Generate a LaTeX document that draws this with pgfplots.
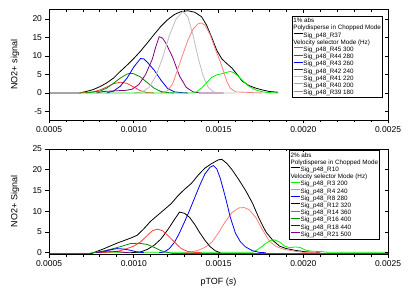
\documentclass[border=0pt]{standalone}
\usepackage{fontspec}
\setmainfont{Liberation Sans}
\usepackage{pgfplots}
\pgfplotsset{compat=1.18}

\definecolor{cred}{RGB}{255,60,60}
\definecolor{cdgreen}{RGB}{0,140,0}
\definecolor{cblue}{RGB}{0,0,255}
\definecolor{cpurple}{RGB}{128,0,128}
\definecolor{cgray}{RGB}{190,190,190}
\definecolor{cpink}{RGB}{255,128,128}
\definecolor{clgreen}{RGB}{0,240,0}

\pgfplotsset{
  tof/.style={
    scale only axis, width=339pt,
    xmin=0.0005, xmax=0.0025,
    xtick={0.0005,0.001,0.0015,0.002,0.0025},
    minor x tick num=4,
    scaled x ticks=false,
    /pgf/number format/assume math mode=true,
    x tick label style={/pgf/number format/.cd, fixed, fixed zerofill, precision=4},
    tick label style={font=\fontsize{8.5}{9}\selectfont},
    label style={font=\fontsize{9}{10}\selectfont},
    axis line style={line width=0.9pt},
    every tick/.style={black, line width=0.8pt},
    major tick length=3.5pt, minor tick length=2.5pt,
    tick align=outside,
    xtick pos=bottom, ytick pos=left,
    every axis plot/.append style={line width=0.8pt},
    legend cell align=left,
    legend image code/.code={\draw[##1] (0pt,2pt) -- (9pt,2pt);},
  },
  mirror/.style={
    tof, xtick pos=top, ytick pos=right, tick align=inside,
    xticklabels={}, yticklabels={},
  },
  leg/.style={
    draw=black, line width=0.8pt, inner sep=1pt,
    font=\fontsize{6.3}{6.3}\selectfont,
    nodes={inner sep=0.3pt, text height=5.1pt, text depth=1.5pt},
  },
}
\newcommand{\hd}[1]{\hspace*{-10pt}#1}

\begin{document}
\begin{tikzpicture}
\path[use as bounding box] (0,0) rectangle (412pt,292pt);

% ---------------- top panel: 1% abs ----------------
\begin{axis}[tof, at={(49pt,172pt)}, anchor=south west, height=110.7pt,
  ymin=-7.3, ymax=22.6, ytick={-5,0,5,10,15,20},
  ylabel={NO2+ signal},
  ylabel style={at={(axis description cs:-0.1,0.5)}, anchor=center},
  legend style={leg, at={(rel axis cs:0.984,0.94)}, anchor=north east},
]
\addlegendimage{empty legend}\addlegendentry{\hd{1\% abs}}
\addlegendimage{empty legend}\addlegendentry{\hd{Polydisperse in Chopped Mode}}
\addplot[black] coordinates {
(0.0005,0) (0.00068,0) (0.00072,0.4) (0.00076,0.9) (0.0008,1.7) (0.00084,2.7)
(0.00088,4.0) (0.00092,5.8) (0.00096,7.5) (0.0010,9.3) (0.00104,11.3) (0.00108,13.5)
(0.00112,15.8) (0.00116,18.0) (0.0012,19.8) (0.00124,21.2) (0.00128,22.0) (0.00132,22.2)
(0.00136,21.8) (0.0014,20.6) (0.00143,18.3) (0.00146,15.0) (0.00149,11.5) (0.00152,9.2)
(0.00155,7.9) (0.00158,6.7) (0.00161,5.0) (0.00164,3.2) (0.00168,2.0) (0.00172,1.3)
(0.00176,0.8) (0.0018,0.4) (0.00185,0.2)};
\addlegendentry{Sig\_p48\_R37}
\addlegendimage{empty legend}\addlegendentry{\hd{Velocity selector Mode (Hz)}}
\addplot[cred] coordinates {
(0.00068,0) (0.00076,0.3) (0.0008,0.8) (0.00084,1.6) (0.00088,2.5) (0.00092,2.9)
(0.00096,2.6) (0.001,1.6) (0.00104,0.6) (0.00108,0.1) (0.00112,0)};
\addlegendentry{Sig\_p48\_R45 300}
\addplot[cdgreen] coordinates {
(0.00072,0) (0.0008,0.5) (0.00084,1.3) (0.00088,2.6) (0.00092,4.0) (0.00096,5.1)
(0.00098,5.3) (0.001,5.2) (0.00104,4.3) (0.00108,2.8) (0.00112,1.3) (0.00116,0.4)
(0.0012,0.1) (0.00124,0)};
\addlegendentry{Sig\_p48\_R44 280}
\addplot[cblue] coordinates {
(0.00084,0) (0.00088,0.5) (0.00092,1.8) (0.00096,4.0) (0.001,7.0) (0.00104,9.3)
(0.00106,9.2) (0.00108,8.3) (0.00112,6.2) (0.00116,3.5) (0.0012,1.2) (0.00124,0.3)
(0.00128,0.1) (0.00132,0)};
\addlegendentry{Sig\_p48\_R43 260}
\addplot[cpurple] coordinates {
(0.00078,0) (0.00082,0.4) (0.00086,0.5) (0.0009,0.6) (0.00095,0.7) (0.00099,1.0)
(0.00103,2.3) (0.00107,5.0) (0.00111,9.2) (0.00113,12.5) (0.00115,15.2) (0.00117,14.8)
(0.00119,13.4) (0.00123,9.6) (0.00127,4.6) (0.00131,1.5) (0.00135,0.3) (0.00139,0)
(0.00153,0)};
\addlegendentry{Sig\_p48\_R42 240}
\addplot[cgray] coordinates {
(0.001,0) (0.00105,0.3) (0.00109,1.5) (0.00113,4.5) (0.00117,9.5) (0.00121,15.5)
(0.00125,20) (0.00129,22) (0.00132,20.5) (0.00135,15.5) (0.00138,9.5) (0.00141,4.5)
(0.00144,1.5) (0.00147,0.3) (0.0015,0) (0.0016,0)};
\addlegendentry{Sig\_p48\_R41 220}
\addplot[cpink] coordinates {
(0.00116,0) (0.0012,0.6) (0.00123,2.5) (0.00126,6.5) (0.00129,10.5) (0.00132,14.3)
(0.00135,17.3) (0.00138,18.7) (0.0014,18.9) (0.00142,18.3) (0.00145,15.8) (0.00148,12.0)
(0.00151,8.5) (0.00153,5.8) (0.00155,3.0) (0.00157,1.3) (0.0016,0.3) (0.0017,0.1)
(0.00176,0)};
\addlegendentry{Sig\_p48\_R40 200}
\addplot[clgreen] coordinates {
(0.00068,0) (0.00135,0) (0.00137,0.3) (0.0014,1.3) (0.00143,2.8) (0.00146,4.2)
(0.00149,4.9) (0.00152,5.2) (0.00155,5.6) (0.00157,5.8) (0.00159,5.5) (0.00162,4.4)
(0.00165,3.0) (0.00168,1.8) (0.00172,0.8) (0.00176,0.3) (0.0018,0.1) (0.00185,0)};
\addlegendentry{Sig\_p48\_R39 180}
\end{axis}
\begin{axis}[mirror, at={(49pt,172pt)}, anchor=south west, height=110.7pt,
  ymin=-7.3, ymax=22.6, ytick={-5,0,5,10,15,20}]
\end{axis}

% ---------------- bottom panel: 2% abs ----------------
\begin{axis}[tof, at={(49pt,38pt)}, anchor=south west, height=105pt,
  ymin=-0.3, ymax=25, ytick={0,5,10,15,20,25},
  ylabel={NO2+ Signal},
  ylabel style={at={(axis description cs:-0.1,0.5)}, anchor=center},
  xlabel={pTOF (\textit{s})},
  xlabel style={at={(axis description cs:0.5,-0.27)}, anchor=center},
  legend style={leg, at={(rel axis cs:0.976,0.987)}, anchor=north east},
]
\addlegendimage{empty legend}\addlegendentry{\hd{2\% abs}}
\addlegendimage{empty legend}\addlegendentry{\hd{Polydisperse in Chopped Mode}}
\addplot[black] coordinates {
(0.0005,-0.2) (0.00075,-0.2) (0.00078,0.3) (0.00082,0.9) (0.00086,1.6) (0.0009,2.3)
(0.00094,2.9) (0.00098,3.5) (0.00102,4.2) (0.00106,5.8) (0.0011,7.6) (0.00114,9.0)
(0.00118,10.4) (0.00122,11.8) (0.00126,13.7) (0.0013,15.3) (0.00134,16.7) (0.00138,18.7)
(0.00142,20.4) (0.00146,21.5) (0.0015,22.4) (0.00152,22.5) (0.00155,21.5) (0.00158,20.0)
(0.00162,17.6) (0.00166,15.0) (0.0017,12.0) (0.00174,8.2) (0.00178,5.0) (0.00182,3.0)
(0.00186,1.6) (0.0019,1.0) (0.00195,0.6) (0.002,0.3) (0.00205,0.1) (0.0021,0)};
\addlegendentry{Sig\_p48\_R10}
\addlegendimage{empty legend}\addlegendentry{\hd{Velocity selector Mode (Hz)}}
\addplot[clgreen] coordinates {
(0.00075,0.1) (0.0017,0.1) (0.00172,0.5) (0.00175,1.3) (0.00178,2.3) (0.00181,3.0)
(0.00183,3.1) (0.00186,2.6) (0.00189,1.6) (0.00192,1.2) (0.00195,1.4) (0.00198,1.3)
(0.00201,0.7) (0.00204,0.4) (0.0021,0.3) (0.00215,0.1) (0.0025,0.1)};
\addlegendentry{Sig\_p48\_R3 200}
\addplot[cpink] coordinates {
(0.0013,0) (0.00134,0.2) (0.00138,0.6) (0.00142,1.3) (0.00146,2.5) (0.0015,4.8)
(0.00154,7.5) (0.00158,9.7) (0.00162,10.8) (0.00165,10.9) (0.00168,10.4) (0.00172,8.5)
(0.00176,5.5) (0.0018,2.8) (0.00184,1.5) (0.00188,0.9) (0.00192,0.6) (0.00196,0.3)
(0.002,0.1) (0.0021,0)};
\addlegendentry{Sig\_p48\_R4 240}
\addplot[cblue] coordinates {
(0.00115,0) (0.00118,0.2) (0.00121,1.0) (0.00124,2.5) (0.00127,4.8) (0.0013,7.5)
(0.00133,10.3) (0.00136,13.3) (0.00139,16.3) (0.00142,19.0) (0.00145,20.6) (0.00147,21.0)
(0.00149,20.2) (0.00151,18.0) (0.00154,13.5) (0.00157,8.5) (0.0016,4.7) (0.00163,2.6)
(0.00166,1.4) (0.0017,0.5) (0.00174,0.1) (0.00178,0)};
\addlegendentry{Sig\_p48\_R8 280}
\addplot[black] coordinates {
(0.00098,0) (0.00104,0.2) (0.00108,0.8) (0.00112,1.8) (0.00116,3.3) (0.0012,5.5)
(0.00124,8.0) (0.00127,9.8) (0.0013,9.5) (0.00133,8.5) (0.00136,6.8) (0.00139,4.8)
(0.00142,3.0) (0.00145,1.5) (0.00148,0.5) (0.00151,0)};
\addlegendentry{Sig\_p48\_R12 320}
\addplot[cred] coordinates {
(0.0008,0) (0.00088,0.2) (0.00092,0.5) (0.00096,1.0) (0.001,1.6) (0.00104,2.6)
(0.00108,4.2) (0.00111,5.3) (0.00114,5.7) (0.00117,5.3) (0.0012,4.2) (0.00124,2.6)
(0.00128,1.0) (0.00132,0.3) (0.00136,0.1) (0.0014,0)};
\addlegendentry{Sig\_p48\_R14 360}
\addplot[cdgreen] coordinates {
(0.0005,-0.2) (0.00073,-0.2) (0.00076,0) (0.00082,0.4) (0.00088,1.0) (0.00094,1.7)
(0.00098,2.2) (0.00103,2.3) (0.00108,2.0) (0.00112,1.3) (0.00116,0.5) (0.0012,0.1)
(0.00123,-0.2) (0.0025,-0.2)};
\addlegendentry{Sig\_p48\_R16 400}
\addplot[cblue] coordinates {
(0.00078,0) (0.00082,0.3) (0.00086,0.7) (0.0009,1.0) (0.00094,0.9) (0.00098,0.6)
(0.00102,0.2) (0.00106,0)};
\addlegendentry{Sig\_p48\_R18 440}
\addplot[cpurple] coordinates {
(0.00078,0) (0.00082,0.3) (0.00086,0.4) (0.0009,0.3) (0.00094,0.1) (0.00098,0)};
\addlegendentry{Sig\_p48\_R21 500}
\end{axis}
\begin{axis}[mirror, at={(49pt,38pt)}, anchor=south west, height=105pt,
  ymin=-0.3, ymax=25, ytick={0,5,10,15,20,25}]
\end{axis}
\end{tikzpicture}
\end{document}
